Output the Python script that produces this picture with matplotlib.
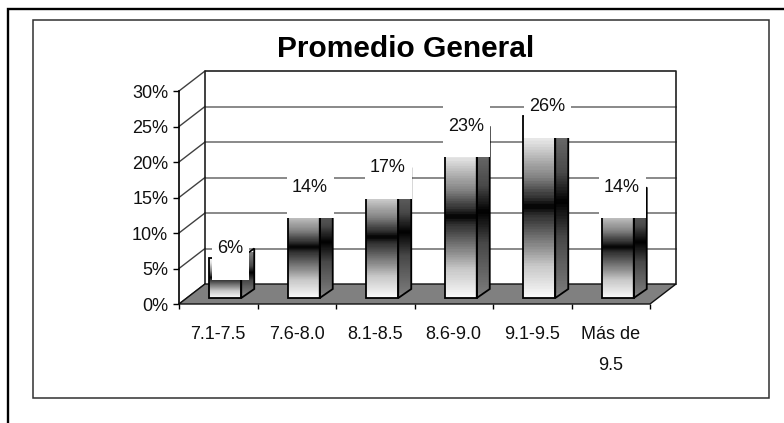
import numpy as np
import matplotlib
matplotlib.use('Agg')
import matplotlib.pyplot as plt
from matplotlib.colors import LinearSegmentedColormap
from matplotlib.patches import Polygon, Rectangle

categories = ['7.1-7.5', '7.6-8.0', '8.1-8.5', '8.6-9.0', '9.1-9.5', 'Más de\n9.5']
values = [5.7, 14.3, 17.1, 22.9, 25.7, 14.3]
yticks = [0, 5, 10, 15, 20, 25, 30]
# where each white label box starts, pixels from the left edge of its bar
box_nudge = [3, -0.5, -1, -1.5, 1, -3]

W, H = 784, 423
plt.rcParams['font.family'] = ['Liberation Sans', 'DejaVu Sans']

fig = plt.figure(figsize=(W / 100, H / 100), dpi=100)

# helper axes for the frames, in pixels
bg = fig.add_axes([0, 0, 1, 1])
bg.set_xlim(0, W)
bg.set_ylim(H, 0)
bg.axis('off')
bg.plot([8, 8, W], [H, 9, 9], color='black', lw=1.7, solid_joinstyle='miter')
bg.add_patch(Rectangle((33, 20), 736, 378, fill=False, ec='#303030', lw=1.1))
bg.text(406, 49, 'Promedio General', fontsize=21.5, fontweight='bold', ha='center', va='center')

# front plane of the chart
x0, x1, y0, y30 = 179, 650, 304, 91
ax = fig.add_axes([x0 / W, 1 - y0 / H, (x1 - x0) / W, (y0 - y30) / H])
ax.patch.set_alpha(0)
px = 6 / (x1 - x0)      # one pixel in x units
py = 30 / (y0 - y30)    # one pixel in y units

# depth of the box
dx, dy = 26 * px, 20 * py
for s in ['top', 'right', 'bottom']:
    ax.spines[s].set_visible(False)
ax.spines['left'].set_linewidth(1.2)

# back wall and floor
ax.add_patch(Rectangle((dx, dy), 6, 30, fc='white', ec='none', zorder=1, clip_on=False))
for t in yticks[1:-1]:
    ax.plot([dx, 6 + dx], [t + dy, t + dy], color='#808080', lw=1.3, zorder=2, clip_on=False)
for t in yticks:
    ax.plot([0, dx], [t, t + dy], color='#404040', lw=1.0, zorder=2, clip_on=False)
ax.plot([dx, dx, 6 + dx, 6 + dx], [dy, 30 + dy, 30 + dy, dy], color='#202020', lw=1.2, zorder=3,
        clip_on=False)
ax.add_patch(Polygon([(0, 0), (6, 0), (6 + dx, dy), (dx, dy)], fc='#808080', ec='#101010', lw=1.0,
                     zorder=3, clip_on=False))

grad = LinearSegmentedColormap.from_list('bar', [
    (0.0, '#ffffff'), (0.125, '#e8e8e8'), (0.34, '#808080'), (0.45, '#303030'), (0.5, '#000000'),
    (0.55, '#303030'), (0.7, '#808080'), (0.83, '#c8c8c8'), (1.0, '#f8f8f8')], N=64)
grad_side = LinearSegmentedColormap.from_list('side', [
    (0.0, '#808080'), (0.34, '#484848'), (0.5, '#000000'), (0.7, '#484848'), (1.0, '#787878')], N=64)
ramp = np.linspace(0, 1, 200).reshape(-1, 1)

# bars sit a bit behind the front plane
off_x, off_y = 7 * px, 6 * py
bw = 32 * px
sx, sy = 13 * px, 9 * py
for i, v in enumerate(values):
    l = i + 0.5 + off_x - bw / 2
    r = l + bw
    b = off_y
    t = off_y + v
    ax.imshow(ramp, cmap=grad, extent=(l, r, b, t), origin='upper', aspect='auto', zorder=4,
              interpolation='bilinear', clip_on=False, vmin=0, vmax=1)
    side = Polygon([(r, b), (r + sx, b + sy), (r + sx, t + sy), (r, t)], closed=True, transform=ax.transData)
    im = ax.imshow(ramp, cmap=grad_side, extent=(r, r + sx, b + sy / 2, t + sy / 2), origin='upper',
                   aspect='auto', zorder=4, interpolation='bilinear', vmin=0, vmax=1)
    im.set_clip_path(side)
    ax.add_patch(Rectangle((l, b), bw, v, fill=False, ec='black', lw=1.3, zorder=5, clip_on=False))
    ax.add_patch(Polygon([(r, b), (r + sx, b + sy), (r + sx, t + sy), (r, t)], fill=False, ec='black',
                         lw=1.3, zorder=5, clip_on=False))

    # white label box hides the top of the bar, as in the original
    lab = '%d%%' % round(v)
    cy = t + 11 * py
    w = (47 if v >= 10 else 37) * px
    bl = l + box_nudge[i] * px
    ax.add_patch(Rectangle((bl, cy - 33 * py), w, 53 * py, fc='white', ec='none', zorder=6,
                           clip_on=False))
    ax.text(bl + w / 2 - 1 * px, cy - 2 * py, lab, fontsize=13, ha='center', va='center', zorder=7,
            color='#101010')

ax.set_xlim(0, 6)
ax.set_ylim(0, 30)
ax.set_yticks(yticks)
ax.set_yticklabels(['%d%%' % t for t in yticks], fontsize=13, color='#101010')
ax.set_xticks(range(7))
ax.set_xticklabels([])
ax.set_xticks(np.arange(6) + 0.5, minor=True)
ax.set_xticklabels(categories, minor=True, fontsize=13, color='#101010', linespacing=2.08, va='top')
ax.tick_params(axis='y', length=4.3, width=1.0, pad=3.5)
ax.tick_params(axis='x', which='major', length=3.6, width=1.0)
ax.tick_params(axis='x', which='minor', length=0, pad=15.5)

fig.savefig('out.png', dpi=100)
